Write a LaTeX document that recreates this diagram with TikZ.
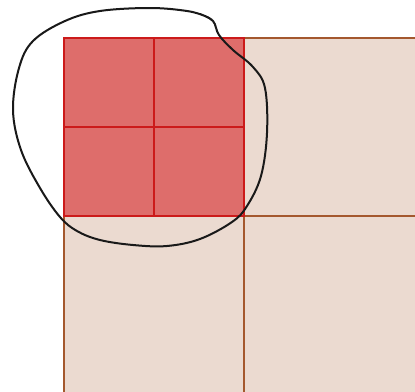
\documentclass[tikz,border=0pt]{standalone}
\begin{document}
\begin{tikzpicture}[x=1pt,y=-1pt,
  redline/.style={draw=redgrid,line width=1.5pt},
  loop/.style={draw=black!90,line width=2pt,line join=round,line cap=round}]
\definecolor{peach}{HTML}{EBDAD0}
\definecolor{brownline}{HTML}{A4582E}
\definecolor{redfill}{HTML}{DE6D6B}
\definecolor{redgrid}{HTML}{CC1A1A}
\useasboundingbox (0,0) rectangle (415,391);
\fill[white] (0,0) rectangle (415,391);
% big grid
\fill[peach] (64,38) rectangle (420,395);
\draw[brownline,line width=1.3pt] (64,395) -- (64,38) -- (420,38);
\draw[brownline,line width=1.3pt] (244,38) -- (244,395);
\draw[brownline,line width=1.3pt] (64,216) -- (420,216);
% red block
\fill[redfill] (64,38) rectangle (244,216);
\draw[redline] (64,38) rectangle (244,216);
\draw[redline] (154,38) -- (154,216);
\draw[redline] (64,127) -- (244,127);
% hand-drawn loop
\draw[loop] plot[smooth,tension=0.6] coordinates {
 (200,14) (213,21) (219,35) (233,50) (253,67) (265,88) (267,133) (261,176)
 (247,206) (232,222) (200,239) (167,246) (133,245) (100,240) (77,231)
 (60,217) (40,188) (21,150) (13,110) (19,68) (33,41) (65,21) (100,11)
 (150,8) (187,11) (205,16) (212,20)};
\end{tikzpicture}
\end{document}
